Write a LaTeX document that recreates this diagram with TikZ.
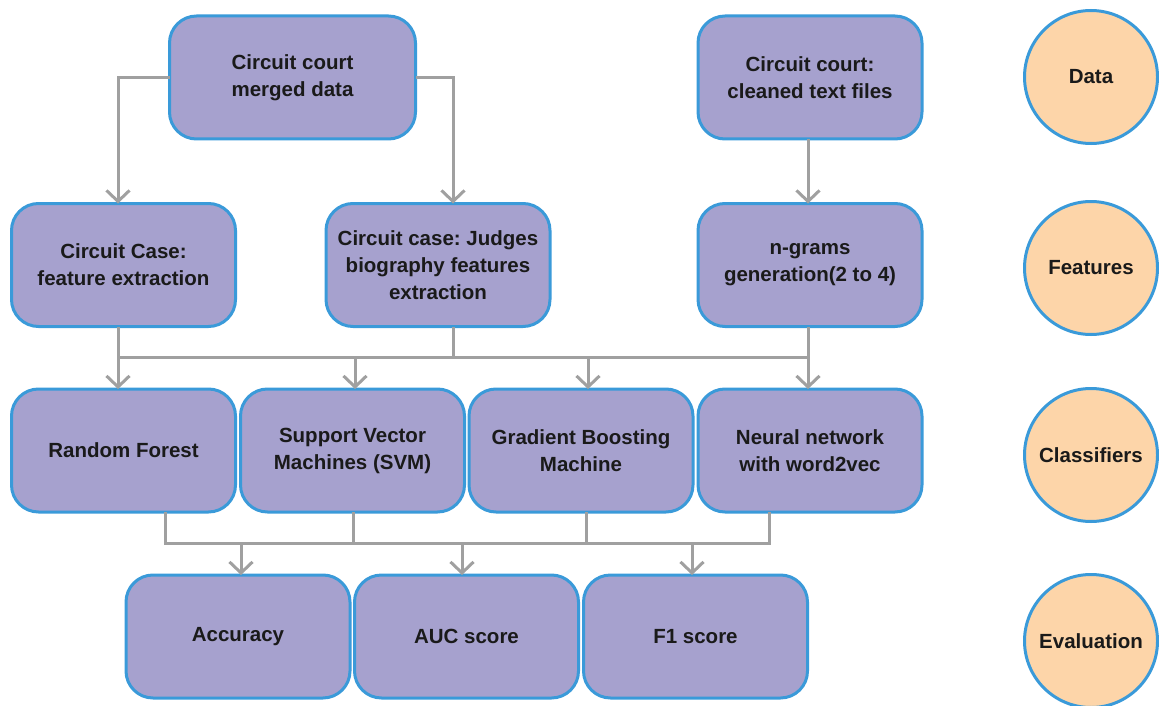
\documentclass[tikz,border=0pt]{standalone}
\usepackage{fontspec}
\setmainfont{Liberation Sans}
\frenchspacing
\usetikzlibrary{arrows.meta}
\definecolor{boxfill}{HTML}{A6A1CE}
\definecolor{edgeblue}{HTML}{3A9AD9}
\definecolor{stagefill}{HTML}{FDD5A9}
\definecolor{wire}{HTML}{A0A0A0}
\definecolor{ink}{HTML}{1A1A1A}
\tikzset{
  stepbox/.style={draw=edgeblue, fill=boxfill, line width=3pt, rounded corners=27pt,
    minimum width=224pt, minimum height=123pt, inner sep=4pt, outer sep=0pt,
    align=center, text=ink, font=\fontsize{20.5}{27}\selectfont\bfseries},
  widebox/.style={stepbox, minimum width=246pt},
  stage/.style={circle, draw=edgeblue, fill=stagefill, line width=3pt,
    minimum size=133pt, inner sep=0pt, text=ink,
    font=\fontsize{20.5}{27}\selectfont\bfseries},
  wireline/.style={draw=wire, line width=3pt},
  conn/.style={wireline, -{Straight Barb[length=11pt, width=23pt, line width=3pt]}}
}
\begin{document}
\begin{tikzpicture}[x=1pt, y=-1pt]
\useasboundingbox (0,0) rectangle (1159,706);

% data sources
\node[widebox] (merged)  at (292.5,77.5) {Circuit court\\merged data};
\node[stepbox] (cleaned) at (810,77.5)   {Circuit court:\\cleaned text files};

% feature extraction
\node[stepbox] (fe)     at (123.5,265) {Circuit Case:\\feature extraction};
\node[stepbox] (judges) at (438,265)   {Circuit case: Judges\\biography features\\extraction};
\node[stepbox] (ngram)  at (810,265)   {n-grams\\generation(2 to 4)};

% classifiers
\node[stepbox] (rf)  at (123.5,450.5) {Random Forest};
\node[stepbox] (svm) at (352.5,450.5) {Support Vector\\Machines (SVM)};
\node[stepbox] (gbm) at (581,450.5)   {Gradient Boosting\\Machine};
\node[stepbox] (nn)  at (810,450.5)   {Neural network\\with word2vec};

% evaluation
\node[stepbox] (acc) at (238,636.5)   {Accuracy};
\node[stepbox] (auc) at (466.5,636.5) {AUC score};
\node[stepbox] (f1)  at (695.5,636.5) {F1 score};

% stage labels
\node[stage] (sData)  at (1091,77)  {Data};
\node[stage] (sFeat)  at (1091,268) {Features};
\node[stage] (sClass) at (1091,455) {Classifiers};
\node[stage] (sEval)  at (1091,641) {Evaluation};

% data -> features
\draw[conn] (merged.west) -| (fe.north -| 118,0);
\draw[conn] (merged.east) -| (judges.north -| 453,0);
\draw[conn] (cleaned.south -| 808,0) -- (ngram.north -| 808,0);

% features -> classifiers (shared bus)
\coordinate (busA) at (118,357);
\coordinate (busB) at (808,357);
\draw[wireline] (fe.south -| busA) -- (busA);
\draw[wireline] (judges.south -| 453,0) -- (busA -| 453,0);
\draw[wireline] (ngram.south -| busB) -- (busB);
\draw[wireline, line cap=rect] (busA) -- (busB);
\draw[conn] (busA) -- (rf.north -| busA);
\draw[conn] (busA -| 355,0) -- (svm.north -| 355,0);
\draw[conn] (busA -| 588,0) -- (gbm.north -| 588,0);
\draw[conn] (busB) -- (nn.north -| busB);

% classifiers -> evaluation (shared bus)
\coordinate (busC) at (165,543);
\coordinate (busD) at (769,543);
\draw[wireline] (rf.south -| busC) -- (busC);
\draw[wireline] (svm.south -| 353,0) -- (busC -| 353,0);
\draw[wireline] (gbm.south -| 586,0) -- (busC -| 586,0);
\draw[wireline] (nn.south -| busD) -- (busD);
\draw[wireline, line cap=rect] (busC) -- (busD);
\draw[conn] (busC -| 241,0) -- (acc.north -| 241,0);
\draw[conn] (busC -| 462,0) -- (auc.north -| 462,0);
\draw[conn] (busC -| 692,0) -- (f1.north -| 692,0);
\end{tikzpicture}
\end{document}
